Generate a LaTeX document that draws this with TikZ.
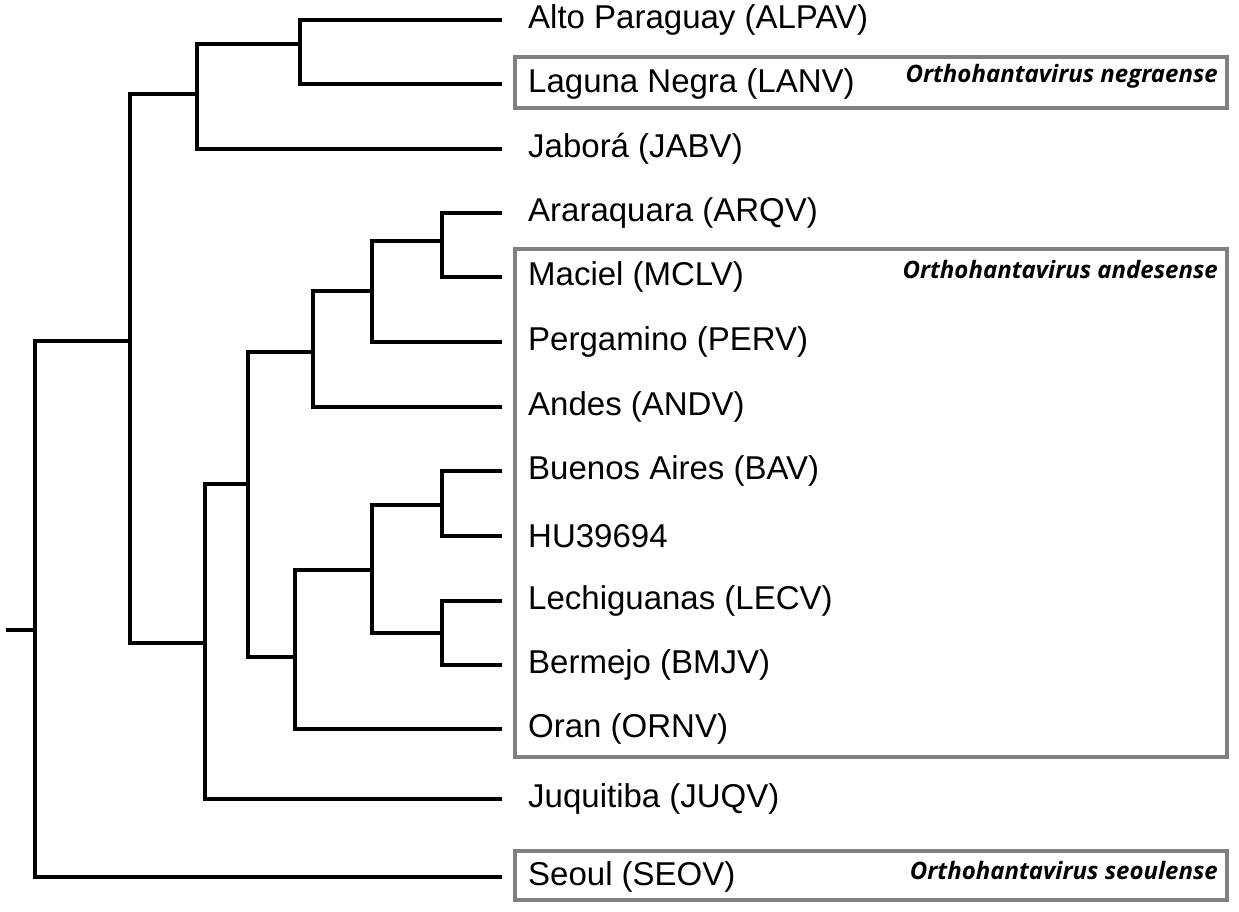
\documentclass[tikz,border=0pt]{standalone}
\usepackage{fontspec}
\setmainfont{Liberation Sans}
\newfontfamily\tagfont{Open Sans}
\tikzset{
  branch/.style={line width=3.2pt,line cap=rect},
  leaf/.style={anchor=west,font=\fontsize{33}{36}\selectfont,inner sep=0pt},
  group/.style={draw=gray,line width=3.5pt},
  tag/.style={anchor=east,font=\tagfont\bfseries\itshape\fontsize{24}{27}\selectfont,inner sep=0pt}
}
\begin{document}
\begin{tikzpicture}[x=1pt,y=-1pt]
\useasboundingbox (0,0) rectangle (1239,911);
% boxes
\draw[group] (515,57) rectangle (1227,108);
\draw[group] (515,249) rectangle (1227,757);
\draw[group] (515,851) rectangle (1227,900);
\node[tag] (tneg) at (1218,76) {Orthohantavirus negraense};
\node[tag] (tand) at (1218,269) {Orthohantavirus andesense};
\node[tag] (tseo) at (1218,870) {Orthohantavirus seoulense};
% leaves
\node[leaf] (alpav) at (528,20) {Alto Paraguay (ALPAV)};
\node[leaf] (lanv) at (528,84) {Laguna Negra (LANV)};
\node[leaf] (jabv) at (528,149) {Jaborá (JABV)};
\node[leaf] (arqv) at (528,213) {Araraquara (ARQV)};
\node[leaf] (mclv) at (528,277) {Maciel (MCLV)};
\node[leaf] (perv) at (528,342) {Pergamino (PERV)};
\node[leaf] (andv) at (528,407) {Andes (ANDV)};
\node[leaf] (bav) at (528,471) {Buenos Aires (BAV)};
\node[leaf] (hu) at (528,536) {HU39694};
\node[leaf] (lecv) at (528,601) {Lechiguanas (LECV)};
\node[leaf] (bmjv) at (528,665) {Bermejo (BMJV)};
\node[leaf] (ornv) at (528,729) {Oran (ORNV)};
\node[leaf] (juqv) at (528,799) {Juquitiba (JUQV)};
\node[leaf] (seov) at (528,877) {Seoul (SEOV)};
% tree
\coordinate (stub) at (8,630);
\coordinate (nr) at (35,630);
\coordinate (na) at (130,341);
\coordinate (nb) at (197,94);
\coordinate (nc) at (300,44);
\coordinate (nd) at (205,643);
\coordinate (ne) at (248,484);
\coordinate (nf) at (313,352);
\coordinate (ng) at (372,291);
\coordinate (nh) at (442,241);
\coordinate (ni) at (295,657);
\coordinate (nj) at (372,570);
\coordinate (nk) at (442,505);
\coordinate (nl) at (442,633);
\draw[branch] (stub) -- (nr);
\draw[branch] (na) -| (nr) |- ([xshift=-28pt]seov.west);
\draw[branch] (nb) -| (na) |- (nd);
\draw[branch] (nc) -| (nb) |- ([xshift=-28pt]jabv.west);
\draw[branch] ([xshift=-28pt]alpav.west) -| (nc) |- ([xshift=-28pt]lanv.west);
\draw[branch] (ne) -| (nd) |- ([xshift=-28pt]juqv.west);
\draw[branch] (nf) -| (ne) |- (ni);
\draw[branch] (ng) -| (nf) |- ([xshift=-28pt]andv.west);
\draw[branch] (nh) -| (ng) |- ([xshift=-28pt]perv.west);
\draw[branch] ([xshift=-28pt]arqv.west) -| (nh) |- ([xshift=-28pt]mclv.west);
\draw[branch] (nj) -| (ni) |- ([xshift=-28pt]ornv.west);
\draw[branch] (nk) -| (nj) |- (nl);
\draw[branch] ([xshift=-28pt]bav.west) -| (nk) |- ([xshift=-28pt]hu.west);
\draw[branch] ([xshift=-28pt]lecv.west) -| (nl) |- ([xshift=-28pt]bmjv.west);
\end{tikzpicture}
\end{document}
